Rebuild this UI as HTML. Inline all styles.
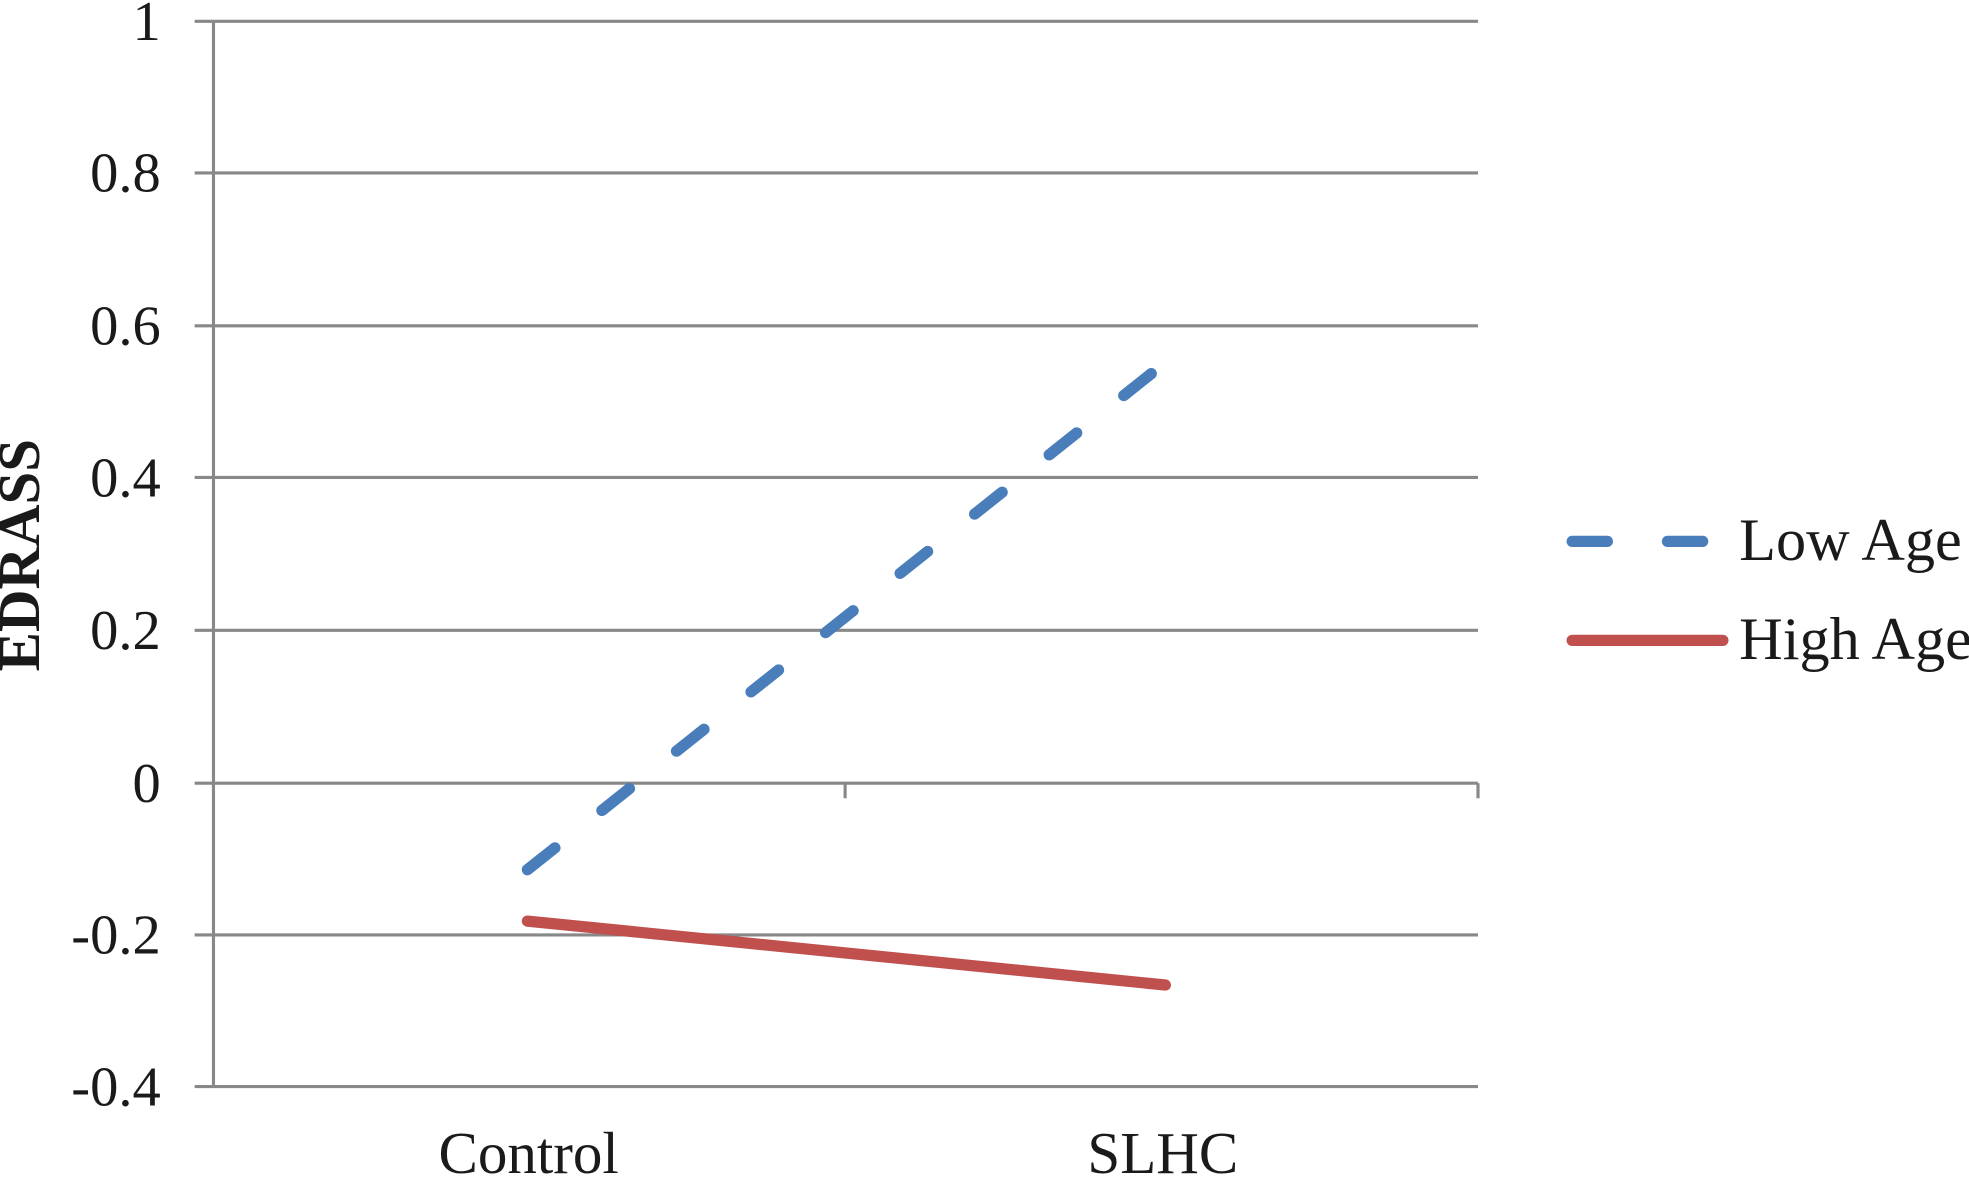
<!DOCTYPE html>
<html><head><meta charset="utf-8"><style>
html,body{margin:0;padding:0;background:#fff;width:1969px;height:1178px;overflow:hidden}
svg{display:block}
text{font-family:"Liberation Serif",serif;fill:#1a1a1a}
</style></head><body>
<svg width="1969" height="1178" viewBox="0 0 1568 940" preserveAspectRatio="none">
<g stroke="#888" stroke-width="2.5">
<line x1="155" y1="17" x2="1177" y2="17"/>
<line x1="155" y1="138" x2="1177" y2="138"/>
<line x1="155" y1="260" x2="1177" y2="260"/>
<line x1="155" y1="381" x2="1177" y2="381"/>
<line x1="155" y1="503" x2="1177" y2="503"/>
<line x1="155" y1="625" x2="1177" y2="625"/>
<line x1="155" y1="746" x2="1177" y2="746"/>
<line x1="155" y1="867" x2="1177" y2="867"/>
<line x1="170" y1="17" x2="170" y2="867"/>
<line x1="673" y1="625" x2="673" y2="637"/>
<line x1="1177" y1="625" x2="1177" y2="637"/>
</g>
<g font-size="45" text-anchor="end">
<text x="128" y="32">1</text>
<text x="128" y="153">0.8</text>
<text x="128" y="275">0.6</text>
<text x="128" y="396">0.4</text>
<text x="128" y="518">0.2</text>
<text x="128" y="640">0</text>
<text x="128" y="761">-0.2</text>
<text x="128" y="882">-0.4</text>
</g>
<g font-size="47" text-anchor="middle">
<text x="421" y="936">Control</text>
<text x="926" y="936">SLHC</text>
</g>
<text transform="translate(31,443) rotate(-90)" font-size="47" font-weight="bold" text-anchor="middle">EDRASS</text>
<line x1="420" y1="735" x2="928" y2="786" stroke="#c0504d" stroke-width="9" stroke-linecap="round"/>
<line x1="420" y1="694" x2="917" y2="298" stroke="#4a7ebb" stroke-width="9" stroke-linecap="round" stroke-dasharray="28 47.9"/>
<line x1="1252" y1="432" x2="1362" y2="432" stroke="#4a7ebb" stroke-width="9" stroke-linecap="round" stroke-dasharray="28 47.9"/>
<line x1="1252" y1="511" x2="1372" y2="511" stroke="#c0504d" stroke-width="9" stroke-linecap="round"/>
<g font-size="48">
<text x="1385" y="447">Low Age</text>
<text x="1385" y="526">High Age</text>
</g>
</svg>
</body></html>
